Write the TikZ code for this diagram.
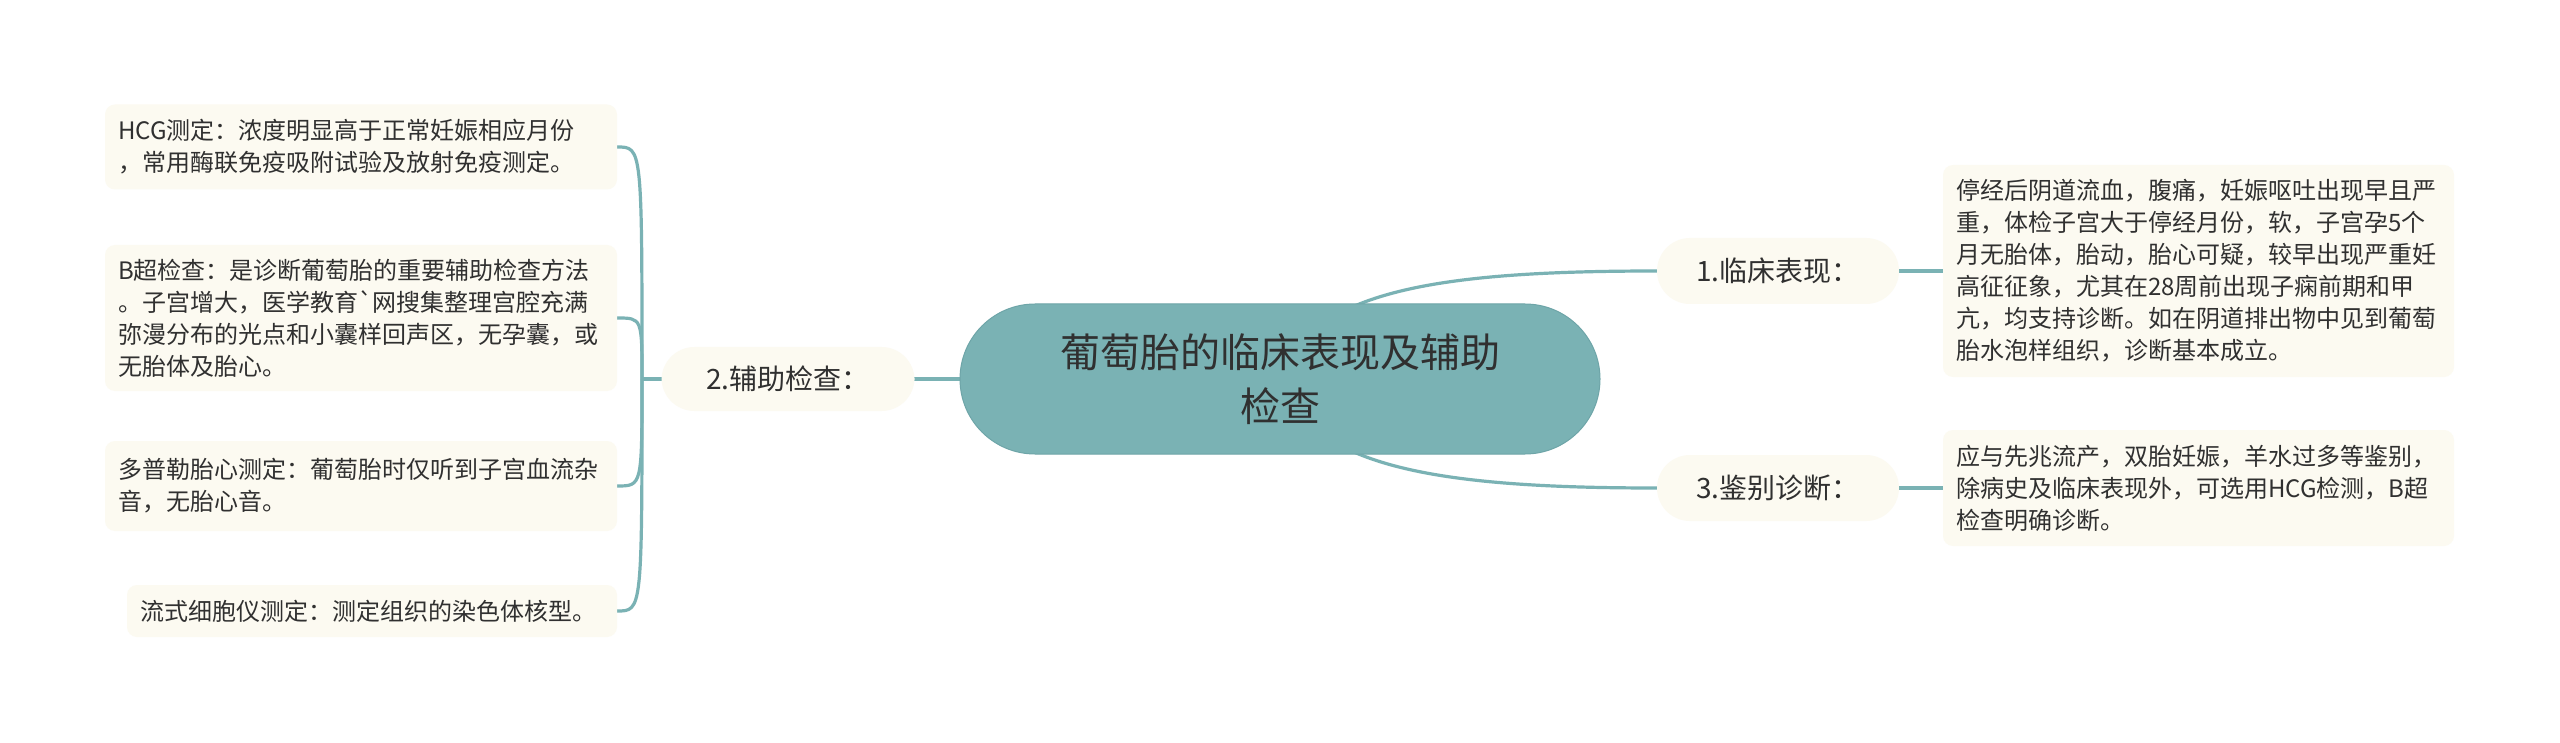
\documentclass[tikz,border=0pt]{standalone}
\usepackage{fontspec}
\newfontfamily\cjk{Noto Sans CJK SC}
\usetikzlibrary{backgrounds}
\definecolor{tealc}{RGB}{122,178,180}
\definecolor{tealdark}{RGB}{110,165,168}
\definecolor{cream}{RGB}{252,250,241}
\definecolor{txt}{RGB}{48,48,48}
\begin{document}
\begin{tikzpicture}[x=1pt,y=-1pt,
  leaf/.style={rectangle, rounded corners=10pt, fill=cream, text=txt,
    font=\cjk\fontsize{24}{32}\selectfont, align=left, inner xsep=13pt, inner ysep=0pt, anchor=center},
  branch/.style={rectangle, rounded corners=33pt, fill=cream, text=txt,
    font=\cjk\fontsize{28}{34}\selectfont, inner sep=0pt, anchor=center},
  central/.style={rectangle, rounded corners=75pt, fill=tealc, draw=tealdark, line width=1pt,
    text=txt, font=\cjk\fontsize{40}{54}\selectfont, align=center,
    minimum width=640pt, minimum height=150pt, inner sep=0pt},
  conn/.style={draw=tealc, line width=3.2pt}
]
\useasboundingbox (0,0) rectangle (2560,743);

\node[central] (c) at (1280,379) {葡萄胎的临床表现及辅助\\检查};

\node[branch, minimum width=253pt, minimum height=64pt] (aux) at (788,379) {2.辅助检查：};
\node[branch, minimum width=242pt, minimum height=66pt] (clin) at (1778,271) {1.临床表现：};
\node[branch, minimum width=242pt, minimum height=66pt] (diff) at (1778,488) {3.鉴别诊断：};

\node[leaf, text width=485pt, minimum height=212pt] (clinT) at (2198.5,271)
  {停经后阴道流血，腹痛，妊娠呕吐出现早且严\\
   重，体检子宫大于停经月份，软，子宫孕5个\\
   月无胎体，胎动，胎心可疑，较早出现严重妊\\
   高征征象，尤其在28周前出现子痫前期和甲\\
   亢，均支持诊断。如在阴道排出物中见到葡萄\\
   胎水泡样组织，诊断基本成立。};
\node[leaf, text width=485pt, minimum height=116pt] (diffT) at (2198.5,488)
  {应与先兆流产，双胎妊娠，羊水过多等鉴别，\\
   除病史及临床表现外，可选用HCG检测，B超\\
   检查明确诊断。};

\node[leaf, text width=486pt, minimum height=85pt] (hcg) at (361,147)
  {HCG测定：浓度明显高于正常妊娠相应月份\\
   ，常用酶联免疫吸附试验及放射免疫测定。};
\node[leaf, text width=486pt, minimum height=146pt] (bus) at (361,318)
  {B超检查：是诊断葡萄胎的重要辅助检查方法\\
   。子宫增大，医学教育`网搜集整理宫腔充满\\
   弥漫分布的光点和小囊样回声区，无孕囊，或\\
   无胎体及胎心。};
\node[leaf, text width=486pt, minimum height=90pt] (dop) at (361,486)
  {多普勒胎心测定：葡萄胎时仅听到子宫血流杂\\
   音，无胎心音。};
\node[leaf, text width=464pt, minimum height=52pt] (flow) at (372,611)
  {流式细胞仪测定：测定组织的染色体核型。};

\coordinate (trunk) at (642,379);

\begin{pgfonlayer}{background}
\fill[white] (0,0) rectangle (2560,743);
\draw[conn] (c.center) -- (aux.center);
\draw[conn] (c.center) .. controls (1310,290) and (1440,271) .. (clin.west);
\draw[conn] (c.center) .. controls (1310,468) and (1440,488) .. (diff.west);
\draw[conn] (clin.east) -- (clin.east -| clinT.west);
\draw[conn] (diff.east) -- (diff.east -| diffT.west);
\draw[conn] (aux.center) -- (trunk);
\foreach \n in {hcg,bus,dop,flow}
  \draw[conn] (trunk) .. controls (trunk |- \n.east) and (trunk |- \n.east) .. (\n.east);
\end{pgfonlayer}
\end{tikzpicture}
\end{document}
